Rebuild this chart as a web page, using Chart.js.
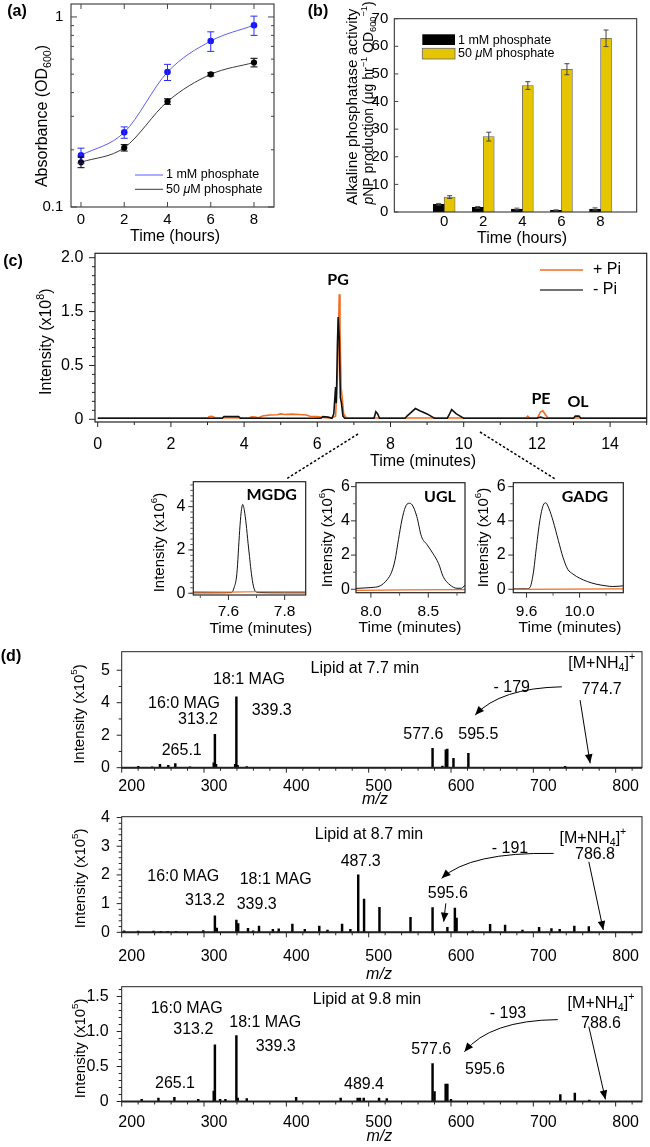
<!DOCTYPE html>
<html><head><meta charset="utf-8">
<script src="https://cdn.jsdelivr.net/npm/chart.js@4.4.1/dist/chart.umd.min.js"></script>
<style>
html,body{margin:0;padding:0;background:#fff;}
body{width:650px;height:1147px;position:relative;overflow:hidden;}
canvas{position:absolute;}
</style></head><body>
<script>
// ================= DATA =================
// (a) growth (OD600)
const hoursA = [0, 2, 4, 6, 8];
const od1mM = [0.187, 0.247, 0.513, 0.747, 0.905];
const od1mMErr = [0.017, 0.017, 0.05, 0.088, 0.105];
const od50uM = [0.172, 0.205, 0.359, 0.499, 0.576];
const od50uMErr = [0.011, 0.008, 0.012, 0.01, 0.03];
const odTicks = [0.1, 1];
const odTickLabels = ['0.1', '1'];
const odMinorTicks = [0.2, 0.3, 0.4, 0.5, 0.6, 0.7, 0.8, 0.9];

// (b) alkaline phosphatase activity
const hoursB = [0, 2, 4, 6, 8];
const apa1mM = [2.8, 1.7, 1.1, 0.6, 1.1];
const apa1mMErr = [0.3, 0.3, 0.3, 0.2, 0.4];
const apa50uM = [5.4, 27.3, 45.8, 51.7, 62.9];
const apa50uMErr = [0.5, 1.6, 1.4, 2.0, 3.0];
const apaTicks = [0, 10, 20, 30, 40, 50, 60, 70];

// (c) chromatogram (x10^8)
const tPlusPi = [0, 3.0, 3.05, 3.12, 3.2, 4.15, 4.2, 4.3, 4.4, 4.5, 4.7, 4.9, 5.0, 5.1, 5.3, 5.5, 5.7, 5.8, 6.0, 6.2, 6.4, 6.5, 6.55, 6.58, 6.6, 6.62, 6.65, 6.68, 6.72, 6.8, 11.7, 11.75, 11.8, 12.02, 12.1, 12.16, 12.24, 12.3, 15];
const iPlusPi = [0.012, 0.012, 0.025, 0.028, 0.014, 0.012, 0.022, 0.02, 0.015, 0.03, 0.04, 0.042, 0.05, 0.045, 0.048, 0.044, 0.04, 0.028, 0.025, 0.015, 0.012, 0.03, 0.4, 1.2, 1.66, 1.2, 0.3, 0.2, 0.05, 0.012, 0.012, 0.03, 0.012, 0.015, 0.07, 0.08, 0.04, 0.012, 0.012];
const tMinusPi = [0, 3.4, 3.45, 3.85, 3.9, 6.1, 6.15, 6.3, 6.4, 6.45, 6.5, 6.52, 6.55, 6.57, 6.6, 6.63, 6.66, 6.7, 6.75, 7.55, 7.6, 7.65, 7.7, 8.4, 8.45, 8.55, 8.68, 8.8, 9.0, 9.15, 9.2, 9.55, 9.6, 9.67, 9.8, 9.95, 10.0, 12.0, 12.1, 12.2, 13.0, 13.05, 13.15, 13.2, 15];
const iMinusPi = [0.01, 0.01, 0.025, 0.025, 0.01, 0.01, 0.025, 0.02, 0.01, 0.05, 0.3, 0.15, 0.9, 1.4, 1.0, 0.2, 0.15, 0.03, 0.01, 0.01, 0.07, 0.05, 0.01, 0.01, 0.03, 0.06, 0.1, 0.08, 0.05, 0.02, 0.01, 0.01, 0.04, 0.09, 0.05, 0.02, 0.01, 0.01, 0.02, 0.01, 0.01, 0.03, 0.03, 0.01, 0.01];
const cTimeTicks = [0, 2, 4, 6, 8, 10, 12, 14];
const cYTicks = [0, 0.5, 1.5, 2.0];
const cYTickLabels = ['0', '0.5', '1.5', '2.0'];

// insets (x10^6)
const mgdgT = [7.475, 7.55, 7.61, 7.62, 7.63, 7.64, 7.645, 7.651, 7.657, 7.663, 7.67, 7.675, 7.68, 7.687, 7.695, 7.71, 7.8, 7.875];
const mgdgMinus = [0.02, 0.02, 0.03, 0.25, 0.9, 2.9, 3.7, 4.1, 3.8, 3.2, 2.3, 1.7, 1.1, 0.46, 0.1, 0.03, 0.02, 0.02];
const mgdgPlusT = [7.475, 7.6, 7.7, 7.875];
const mgdgPlus = [0.06, 0.05, 0.07, 0.06];
const uglT = [7.87, 7.95, 8.0, 8.08, 8.14, 8.18, 8.21, 8.24, 8.27, 8.30, 8.33, 8.36, 8.40, 8.44, 8.49, 8.54, 8.59, 8.63, 8.69, 8.75, 8.79, 8.82];
const uglMinus = [0.05, 0.08, 0.1, 0.2, 0.55, 1.0, 1.7, 2.9, 4.05, 4.8, 5.03, 4.93, 4.25, 3.1, 2.6, 2.1, 1.5, 0.74, 0.25, 0.06, 0.06, 0.25];
const uglPlusT = [7.87, 8.3, 8.82];
const uglPlus = [-0.06, -0.03, -0.02];
const gadgT = [9.5, 9.6, 9.625, 9.65, 9.675, 9.70, 9.725, 9.745, 9.77, 9.80, 9.84, 9.875, 9.91, 9.95, 10.0, 10.06, 10.125, 10.2, 10.25, 10.33];
const gadgMinus = [0.02, 0.03, 0.1, 0.9, 2.5, 4.0, 4.9, 5.05, 4.7, 4.0, 2.85, 1.87, 1.18, 0.89, 0.65, 0.45, 0.3, 0.2, 0.16, 0.2];
const gadgPlusT = [9.5, 10.33];
const gadgPlus = [0.0, 0.02];
const mgdgXTicks = [7.6, 7.8], mgdgXLabels = ['7.6', '7.8'];
const uglXTicks = [8.0, 8.5], uglXLabels = ['8.0', '8.5'];
const gadgXTicks = [9.6, 10.0], gadgXLabels = ['9.6', '10.0'];
const mgdgYTicks = [0, 2, 4];
const insetYTicks = [0, 2, 4, 6];

// (d) mass spectra (x10^5)
const mz77 = [220.2, 237, 246.5, 256.6, 265.1, 283, 311.8, 313.2, 314.6, 337.8, 339.3, 340.8, 352, 577.6, 589.6, 593.7, 595.5, 603, 621.1, 738.6];
const int77 = [0.08, 0.05, 0.2, 0.15, 0.25, 0.05, 0.3, 2.05, 0.2, 0.2, 4.18, 0.15, 0.07, 1.19, 0.1, 1.1, 1.15, 0.57, 0.88, 0.08];
const mz87 = [203, 220, 238.6, 247.6, 256, 266, 299, 313.2, 315.5, 339.3, 341.5, 353.4, 359.6, 366.8, 383.6, 390.7, 407.3, 422.4, 440, 450, 467.7, 477.8, 487.3, 494.4, 513.1, 550.8, 577.6, 595.6, 604.7, 606.8, 626.4, 647.5, 665.7, 686.8, 707, 722, 732, 749.8, 767.4];
const int87 = [0.05, 0.04, 0.04, 0.03, 0.03, 0.03, 0.06, 0.57, 0.15, 0.43, 0.3, 0.14, 0.05, 0.22, 0.1, 0.12, 0.29, 0.1, 0.22, 0.08, 0.29, 0.1, 2.0, 1.16, 0.87, 0.52, 0.86, 0.17, 0.84, 0.5, 0.05, 0.28, 0.25, 0.08, 0.17, 0.13, 0.1, 0.22, 0.2];
const mz98 = [224.3, 244.6, 264, 293, 311.8, 313.2, 319.5, 326, 339.3, 341, 351.9, 411.9, 466, 486.6, 489.4, 494, 512.6, 522, 577.6, 580, 593.5, 595.6, 600, 732.8, 750.4, 768];
const int98 = [0.03, 0.05, 0.06, 0.03, 0.15, 0.81, 0.03, 0.03, 0.94, 0.05, 0.04, 0.06, 0.05, 0.05, 0.05, 0.05, 0.05, 0.04, 0.54, 0.14, 0.25, 0.25, 0.03, 0.1, 0.12, 0.02];
const mzTicks = [200, 300, 400, 500, 600, 700, 800];
const d1YTicks = [0, 2, 4, 5], d1YLabels = ['0', '2', '4', '5'];
const d2YTicks = [0, 1, 2, 3, 4];
const d3YTicks = [0, 0.5, 1.0, 1.5], d3YLabels = ['0', '0.5', '1.0', '1.5'];

// ================= HELPERS =================
const AF = "'Liberation Sans', Arial, Helvetica, sans-serif";
const BF = "Lato, 'Open Sans', 'DejaVu Sans', sans-serif";
Chart.defaults.font.family = AF;
Chart.defaults.color = '#000';
Chart.defaults.animation = false;

const xy = (xs, ys) => xs.map((x, i) => ({x: x, y: ys[i]}));
const range = (a, b, s) => { const r = []; for (let v = a; v <= b + 1e-9; v += s) r.push(Math.round(v * 1000) / 1000); return r; };
const subdiv = (arr, n) => { const r = []; for (let i = 0; i < arr.length - 1; i++) for (let k = 1; k < n; k++) r.push(arr[i] + k * (arr[i + 1] - arr[i]) / n); return r; };

// piecewise-linear axis (evenly spaced labelled breakpoints)
const LinScale = Chart.LinearScale || Chart.registry.getScale('linear');
class BrokenScale extends LinScale {
  _bk() { return this.chart.config.options.scales[this.id].breaks; }
  _w(v) { const b = this._bk(), n = b.length; let i = 0; while (i < n - 2 && v > b[i + 1]) i++; return i + (v - b[i]) / (b[i + 1] - b[i]); }
  _uw(p) { const b = this._bk(), n = b.length; const i = Math.max(0, Math.min(n - 2, Math.floor(p))); return b[i] + (p - i) * (b[i + 1] - b[i]); }
  getPixelForValue(v) {
    if (v === null || v === undefined || isNaN(v)) return NaN;
    const a = this._w(this.min), c = this._w(this.max);
    return this.getPixelForDecimal((this._w(v) - a) / (c - a));
  }
  getValueForPixel(px) {
    const a = this._w(this.min), c = this._w(this.max);
    return this._uw(a + this.getDecimalForPixel(px) * (c - a));
  }
}
BrokenScale.id = 'broken';
BrokenScale.defaults = {};
Chart.register(BrokenScale);

function drawText(ctx, it, ox, oy) {
  const size = it.size || 16, fam = it.family || AF;
  const parts = typeof it.text === 'string' ? [{t: it.text}] : it.text;
  const fontOf = p => ((p.italic || it.italic) ? 'italic ' : '') + ((p.bold || it.bold) ? 'bold ' : '') +
    ((p.sub || p.sup) ? (size * 0.66).toFixed(1) : size) + 'px ' + fam;
  let w = 0;
  parts.forEach(p => { ctx.font = fontOf(p); p._w = ctx.measureText(p.t).width; w += p._w; });
  ctx.save();
  ctx.translate(it.x - ox, it.y - oy);
  if (it.rot) ctx.rotate(it.rot * Math.PI / 180);
  ctx.fillStyle = it.color || '#000';
  ctx.textBaseline = 'middle';
  ctx.textAlign = 'left';
  let x0 = it.align === 'left' ? 0 : it.align === 'right' ? -w : -w / 2;
  parts.forEach(p => {
    ctx.font = fontOf(p);
    const dy = p.sub ? size * 0.3 : p.sup ? -size * 0.36 : 0;
    ctx.fillText(p.t, x0, dy);
    x0 += p._w;
  });
  ctx.restore();
}
function arrowHead(ctx, x, y, ang, len, hw) {
  const c = Math.cos(ang), s = Math.sin(ang);
  ctx.beginPath();
  ctx.moveTo(x, y);
  ctx.lineTo(x - len * c + hw * s, y - len * s - hw * c);
  ctx.lineTo(x - len * c - hw * s, y - len * s + hw * c);
  ctx.closePath(); ctx.fill();
}

const decoPlugin = {
  id: 'deco',
  afterDatasetsDraw(chart) {
    const d = chart.config.options.plugins.deco;
    if (!d || !d.errs) return;
    const ctx = chart.ctx, ys = chart.scales.y;
    ctx.save();
    d.errs.forEach(e => {
      const meta = chart.getDatasetMeta(e.ds), ds = chart.data.datasets[e.ds];
      ctx.strokeStyle = e.color; ctx.lineWidth = e.width || 1;
      ctx.beginPath();
      meta.data.forEach((el, i) => {
        const v = ds.data[i].y, er = e.err[i];
        const x = el.x, y1 = ys.getPixelForValue(v - er), y2 = ys.getPixelForValue(v + er);
        ctx.moveTo(x, y1); ctx.lineTo(x, y2);
        ctx.moveTo(x - e.cap, y1); ctx.lineTo(x + e.cap, y1);
        ctx.moveTo(x - e.cap, y2); ctx.lineTo(x + e.cap, y2);
      });
      ctx.stroke();
    });
    ctx.restore();
  },
  afterDraw(chart) {
    const d = chart.config.options.plugins.deco;
    if (!d) return;
    const ctx = chart.ctx, ca = chart.chartArea, ox = d.ox, oy = d.oy;
    ctx.save();
    if (d.frame) {
      ctx.strokeStyle = d.frame.color || '#000'; ctx.lineWidth = d.frame.width || 1;
      ctx.strokeRect(ca.left, ca.top, ca.right - ca.left, ca.bottom - ca.top);
      if (d.frame.bottom) {
        ctx.lineWidth = d.frame.bottom;
        ctx.beginPath(); ctx.moveTo(ca.left, ca.bottom); ctx.lineTo(ca.right, ca.bottom); ctx.stroke();
      }
    }
    (d.ticks || []).forEach(t => {
      const sc = chart.scales[t.axis];
      ctx.strokeStyle = t.color || '#000'; ctx.lineWidth = t.width || 1;
      ctx.beginPath();
      t.values.forEach(v => {
        const p = sc.getPixelForValue(v);
        const s = t.dir === 'in' ? -1 : 1;
        if (t.axis === 'x') {
          ctx.moveTo(p, ca.bottom); ctx.lineTo(p, ca.bottom + s * t.len);
          if (t.mirror) { ctx.moveTo(p, ca.top); ctx.lineTo(p, ca.top - s * t.len); }
        } else {
          ctx.moveTo(ca.left, p); ctx.lineTo(ca.left - s * t.len, p);
          if (t.mirror) { ctx.moveTo(ca.right, p); ctx.lineTo(ca.right + s * t.len, p); }
        }
      });
      ctx.stroke();
    });
    (d.items || []).forEach(it => {
      if (it.type === 'text') drawText(ctx, it, ox, oy);
      else if (it.type === 'line') {
        ctx.save();
        ctx.strokeStyle = it.color || '#000'; ctx.lineWidth = it.width || 1;
        ctx.setLineDash(it.dash || []);
        ctx.beginPath();
        it.pts.forEach((p, i) => { if (i === 0) ctx.moveTo(p[0] - ox, p[1] - oy); else ctx.lineTo(p[0] - ox, p[1] - oy); });
        ctx.stroke();
        ctx.restore();
      } else if (it.type === 'rect') {
        ctx.fillStyle = it.fill; ctx.fillRect(it.x - ox, it.y - oy, it.w, it.h);
        if (it.stroke) { ctx.strokeStyle = it.stroke; ctx.lineWidth = 0.8; ctx.strokeRect(it.x - ox, it.y - oy, it.w, it.h); }
      } else if (it.type === 'arrow') {
        const X = v => chart.scales.x.getPixelForValue(v), Y = v => chart.scales.y.getPixelForValue(v);
        const P = q => [X(q[0]), Y(q[1])];
        const a = P(it.from), b = P(it.to);
        ctx.strokeStyle = '#000'; ctx.fillStyle = '#000'; ctx.lineWidth = 1;
        ctx.beginPath(); ctx.moveTo(a[0], a[1]);
        let ang;
        if (it.ctrl) { const c = P(it.ctrl); ctx.quadraticCurveTo(c[0], c[1], b[0], b[1]); ang = Math.atan2(b[1] - c[1], b[0] - c[0]); }
        else { ctx.lineTo(b[0], b[1]); ang = Math.atan2(b[1] - a[1], b[0] - a[0]); }
        ctx.stroke();
        arrowHead(ctx, b[0], b[1], ang, 9, 3.8);
      }
    });
    ctx.restore();
  }
};
Chart.register(decoPlugin);

function axis(o) {
  const s = {
    type: o.type || 'linear', min: o.min, max: o.max, offset: false,
    grid: {display: false, drawTicks: false}, border: {display: false},
    ticks: {font: {size: o.size || 16, family: AF}, color: '#000', padding: o.pad, autoSkip: false,
      maxRotation: 0, minRotation: 0, labelOffset: o.labelOffset || 0,
      callback: (v, i) => o.labels ? o.labels[i] : String(v)},
    afterBuildTicks: sc => { sc.ticks = o.ticks.map(v => ({value: v})); }
  };
  if (o.breaks) s.breaks = o.breaks;
  return s;
}

function chartAt(box, m, cfg) {
  const ox = Math.floor(box.l - m.l), oy = Math.floor(box.t - m.t);
  const W = Math.ceil(box.r + m.r) - ox, H = Math.ceil(box.b + m.b) - oy;
  const c = document.createElement('canvas');
  c.width = W; c.height = H;
  c.style.left = ox + 'px'; c.style.top = oy + 'px';
  c.style.width = W + 'px'; c.style.height = H + 'px';
  document.body.appendChild(c);
  const ml = box.l - ox, mt = box.t - oy, mr = W - (box.r - ox), mb = H - (box.b - oy);
  const o = cfg.options;
  o.responsive = false; o.maintainAspectRatio = false; o.animation = false;
  o.layout = {padding: {left: 0, top: mt, right: mr, bottom: 0}};
  const zero = s => { s.paddingLeft = 0; s.paddingRight = 0; s.paddingTop = 0; s.paddingBottom = 0; };
  o.scales.x.afterFit = s => { s.height = mb; zero(s); };
  o.scales.y.afterFit = s => { s.width = ml; zero(s); };
  o.plugins = o.plugins || {};
  o.plugins.legend = {display: false};
  o.plugins.tooltip = {enabled: false};
  o.plugins.deco.ox = ox; o.plugins.deco.oy = oy;
  return new Chart(c, cfg);
}

const ORANGE = '#f26c21';
const txt = (x, y, text, extra) => Object.assign({type: 'text', x: x, y: y, text: text}, extra || {});

// ================= (a) =================
chartAt({l: 71, t: 2, r: 274, b: 207}, {l: 71, t: 2, r: 10, b: 40}, {
  type: 'line',
  data: {datasets: [
    {data: xy(hoursA, od1mM), borderColor: '#5b5bff', borderWidth: 1, pointRadius: 3.3, pointBackgroundColor: '#1515ff', pointBorderWidth: 0, cubicInterpolationMode: 'monotone'},
    {data: xy(hoursA, od50uM), borderColor: '#3a3a3a', borderWidth: 1, pointRadius: 3.1, pointBackgroundColor: '#000', pointBorderWidth: 0, cubicInterpolationMode: 'monotone'}
  ]},
  options: {
    scales: {
      x: axis({min: -0.462, max: 8.925, ticks: hoursA, size: 15, pad: 4}),
      y: axis({type: 'logarithmic', min: 0.1, max: 1.17, ticks: odTicks, labels: odTickLabels, size: 15, pad: 7.7})
    },
    plugins: {deco: {
      frame: {color: '#222', width: 1},
      ticks: [
        {axis: 'y', values: odTicks, len: 6, dir: 'in', mirror: true, color: '#444'},
        {axis: 'y', values: odMinorTicks, len: 3, dir: 'in', mirror: true, color: '#444'},
        {axis: 'x', values: hoursA, len: 5, dir: 'in', mirror: true, color: '#444'}
      ],
      errs: [
        {ds: 0, err: od1mMErr, color: '#2a2aff', cap: 3.5},
        {ds: 1, err: od50uMErr, color: '#000', cap: 3.5}
      ],
      items: [
        txt(17, 12, '(a)', {bold: true, size: 16}),
        txt(43, 116, [{t: 'Absorbance (OD'}, {t: '600', sub: true}, {t: ')'}], {rot: -90, size: 16}),
        txt(175, 237, 'Time (hours)', {size: 16}),
        {type: 'line', pts: [[135, 175], [163, 175]], color: '#5b5bff', width: 1},
        txt(166, 175, '1 mM phosphate', {align: 'left', size: 12.5}),
        {type: 'line', pts: [[135, 189.3], [163, 189.3]], color: '#3a3a3a', width: 1},
        txt(166, 189.3, [{t: '50 '}, {t: 'μ', italic: true}, {t: 'M phosphate'}], {align: 'left', size: 12.5})
      ]
    }}
  }
});

// ================= (b) =================
chartAt({l: 394.3, t: 18.7, r: 636.7, b: 212}, {l: 90, t: 18.7, r: 13, b: 36}, {
  type: 'bar',
  data: {datasets: [
    {data: xy(hoursB, apa1mM), backgroundColor: '#000', borderColor: '#000', borderWidth: 0.6, barThickness: 11},
    {data: xy(hoursB, apa50uM), backgroundColor: '#e5c400', borderColor: '#666', borderWidth: 0.8, barThickness: 11}
  ]},
  options: {
    scales: {
      x: axis({min: -2.55, max: 9.85, ticks: hoursB, size: 15, pad: 0.7}),
      y: axis({min: 0, max: 70, ticks: apaTicks, size: 15, pad: 6})
    },
    plugins: {deco: {
      frame: {color: '#222', width: 1},
      ticks: [{axis: 'y', values: apaTicks, len: 4, dir: 'in', color: '#444'}],
      errs: [
        {ds: 0, err: apa1mMErr, color: '#555', cap: 2.5},
        {ds: 1, err: apa50uMErr, color: '#444', cap: 2.5}
      ],
      items: [
        txt(318, 12, '(b)', {bold: true, size: 16}),
        txt(353, 106.7, 'Alkaline phosphatase activity', {rot: -90, size: 15.3}),
        txt(369.5, 103, [{t: 'p', italic: true}, {t: 'NP production (μg hr'}, {t: '−1', sup: true}, {t: ' OD'}, {t: '600', sub: true}, {t: '−1', sup: true}, {t: ')'}], {rot: -90, size: 14}),
        txt(522, 239, 'Time (hours)', {size: 16}),
        {type: 'rect', x: 422.3, y: 34.3, w: 32.7, h: 10.7, fill: '#000'},
        txt(458, 40.5, '1 mM phosphate', {align: 'left', size: 12.5}),
        {type: 'rect', x: 422.3, y: 48.3, w: 32.7, h: 10.7, fill: '#e5c400', stroke: '#666'},
        txt(458, 53.8, [{t: '50 '}, {t: 'μ', italic: true}, {t: 'M phosphate'}], {align: 'left', size: 12.5})
      ]
    }}
  }
});

// ================= (c) =================
chartAt({l: 95, t: 253.3, r: 646.7, b: 422}, {l: 95, t: 14, r: 3.3, b: 60}, {
  type: 'line',
  data: {datasets: [
    {data: xy(tMinusPi, iMinusPi), borderColor: '#111', borderWidth: 1.6, pointRadius: 0},
    {data: xy(tPlusPi, iPlusPi), borderColor: ORANGE, borderWidth: 1.6, pointRadius: 0}
  ]},
  options: {
    scales: {
      x: axis({min: -0.074, max: 15.0, ticks: cTimeTicks, size: 16, pad: 13.4}),
      y: axis({type: 'broken', breaks: cYTicks, min: -0.025, max: 2.041, ticks: cYTicks, labels: cYTickLabels, size: 16, pad: 11.7})
    },
    plugins: {deco: {
      frame: {color: '#222', width: 1.2},
      ticks: [
        {axis: 'y', values: cYTicks, len: 6, dir: 'out', color: '#222'},
        {axis: 'y', values: subdiv(cYTicks, 6), len: 3, dir: 'out', color: '#222'},
        {axis: 'x', values: cTimeTicks, len: 5, dir: 'out', color: '#222'},
        {axis: 'x', values: [1, 3, 5, 7, 9, 11, 13, 15], len: 3, dir: 'out', color: '#222'}
      ],
      items: [
        txt(13, 262, '(c)', {bold: true, size: 16}),
        txt(46.7, 341.7, [{t: 'Intensity (x10'}, {t: '8', sup: true}, {t: ')'}], {rot: -90, size: 16}),
        txt(423, 462, 'Time (minutes)', {size: 16}),
        txt(338, 280, 'PG', {bold: true, size: 16, family: BF}),
        txt(541, 399, 'PE', {bold: true, size: 16, family: BF}),
        txt(578, 401.7, 'OL', {bold: true, size: 16, family: BF}),
        {type: 'line', pts: [[540, 270], [583, 270]], color: ORANGE, width: 1.5},
        txt(593, 270, '+ Pi', {align: 'left', size: 16}),
        {type: 'line', pts: [[540, 290], [583, 290]], color: '#444', width: 1.5},
        txt(593, 290, '- Pi', {align: 'left', size: 16}),
        {type: 'line', pts: [[358, 434], [287, 478.5]], color: '#000', width: 1.5, dash: [2.5, 2]},
        {type: 'line', pts: [[480, 432], [556, 479.5]], color: '#000', width: 1.5, dash: [2.5, 2]}
      ]
    }}
  }
});

// ================= insets =================
function inset(box, m, tMinus, vMinus, tPlus, vPlus, xo, yo, label, lab, ytl, xtl, xMinor, yMinor) {
  chartAt(box, m, {
    type: 'line',
    data: {datasets: [
      {data: xy(tPlus, vPlus), borderColor: ORANGE, borderWidth: 1.2, pointRadius: 0},
      {data: xy(tMinus, vMinus), borderColor: '#111', borderWidth: 1, pointRadius: 0, cubicInterpolationMode: 'monotone'}
    ]},
    options: {
      scales: {x: axis(xo), y: axis(yo)},
      plugins: {deco: {
        frame: {color: '#222', width: 1.2},
        ticks: [
          {axis: 'y', values: yo.ticks, len: 5, dir: 'out', color: '#333'},
          {axis: 'y', values: yMinor, len: 3, dir: 'out', color: '#555'},
          {axis: 'x', values: xo.ticks, len: 5, dir: 'out', color: '#333'},
          {axis: 'x', values: xMinor, len: 3, dir: 'out', color: '#555'}
        ],
        items: [
          txt(lab[0], lab[1], label, {bold: true, size: 16, family: BF}),
          txt(ytl[0], ytl[1], [{t: 'Intensity (x10'}, {t: '6', sup: true}, {t: ')'}], {rot: -90, size: 15}),
          txt(xtl[0], xtl[1], 'Time (minutes)', {size: 15.5})
        ]
      }}
    }
  });
}
inset({l: 193.3, t: 481.7, r: 305.7, b: 595}, {l: 45, t: 8, r: 6, b: 42}, mgdgT, mgdgMinus, mgdgPlusT, mgdgPlus,
  {min: 7.475, max: 7.875, ticks: mgdgXTicks, labels: mgdgXLabels, size: 15.5, pad: 7},
  {min: -0.08, max: 5.15, ticks: mgdgYTicks, size: 16, pad: 8},
  'MGDG', [271.7, 495], [159.5, 542.5], [260.8, 628.3], [7.5, 7.7], range(0, 5, 0.25));
inset({l: 356, t: 482.7, r: 465, b: 592.7}, {l: 42, t: 8, r: 6, b: 44}, uglT, uglMinus, uglPlusT, uglPlus,
  {min: 7.87, max: 8.82, ticks: uglXTicks, labels: uglXLabels, size: 15.5, pad: 9.4},
  {min: -0.2, max: 6.23, ticks: insetYTicks, size: 16, pad: 6},
  'UGL', [440, 497.3], [327.5, 537.5], [410, 628], [8.25, 8.75], [1, 3, 5]);
inset({l: 513.3, t: 482.7, r: 623.3, b: 592.7}, {l: 42, t: 8, r: 6, b: 44}, gadgT, gadgMinus, gadgPlusT, gadgPlus,
  {min: 9.5, max: 10.33, ticks: gadgXTicks, labels: gadgXLabels, size: 15.5, pad: 9.4},
  {min: -0.2, max: 6.23, ticks: insetYTicks, size: 16, pad: 7.6},
  'GADG', [585, 497], [484, 537.5], [570, 628], [9.8, 10.2], [1, 3, 5]);

// ================= (d) spectra =================
function spectrum(box, m, mz, inten, yo, xPad, yMinor, items) {
  chartAt(box, m, {
    type: 'bar',
    data: {datasets: [{data: xy(mz, inten), backgroundColor: '#000', borderWidth: 0, barThickness: 1.8}]},
    options: {
      scales: {
        x: axis({min: 200, max: 832, ticks: mzTicks, size: 16, pad: xPad, labelOffset: 10}),
        y: axis(yo)
      },
      plugins: {deco: {
        frame: {color: '#222', width: 1, bottom: 2},
        ticks: [
          {axis: 'y', values: yo.ticks, len: 5, dir: 'out', color: '#222'},
          {axis: 'y', values: yMinor, len: 3, dir: 'out', color: '#222'},
          {axis: 'x', values: mzTicks, len: 5, dir: 'out', color: '#222'},
          {axis: 'x', values: range(220, 820, 20).filter(v => v % 100 !== 0), len: 3, dir: 'out', color: '#222'}
        ],
        items: items
      }}
    }
  });
}
const nh4 = [{t: '[M+NH'}, {t: '4', sub: true}, {t: ']'}, {t: '+', sup: true}];
const yTitle5 = [{t: 'Intensity (x10'}, {t: '5', sup: true}, {t: ')'}];

spectrum({l: 121.7, t: 651.7, r: 642, b: 767.7}, {l: 121.7, t: 14, r: 8, b: 42}, mz77, int77,
  {type: 'broken', breaks: d1YTicks, min: 0, max: 5.57, ticks: d1YTicks, labels: d1YLabels, size: 16, pad: 11.7},
  9.7, [1, 3, 4.5], [
    txt(11, 657, '(d)', {bold: true, size: 16}),
    txt(80, 714, yTitle5, {rot: -90, size: 15}),
    txt(375, 800, 'm/z', {italic: true, size: 16}),
    txt(364.8, 668.3, 'Lipid at 7.7 min', {size: 16}),
    txt(249, 680, '18:1 MAG', {size: 16}),
    txt(184, 703.3, '16:0 MAG', {size: 16}),
    txt(198, 720, '313.2', {size: 16}),
    txt(271.7, 711, '339.3', {size: 16}),
    txt(181.7, 751, '265.1', {size: 16}),
    txt(423.3, 735, '577.6', {size: 16}),
    txt(478.3, 735, '595.5', {size: 16}),
    txt(511.7, 687.7, '- 179', {size: 16}),
    txt(601.7, 663.3, nh4, {size: 16}),
    txt(601.7, 690, '774.7', {size: 16}),
    {type: 'arrow', from: [734.6, 4.49], ctrl: [659.7, 4.45], to: [629.3, 3.24]},
    {type: 'arrow', from: [756.8, 4.08], to: [769, 0.27]}
  ]);

spectrum({l: 121.7, t: 816.7, r: 642, b: 932.3}, {l: 121.7, t: 12, r: 8, b: 48}, mz87, int87,
  {min: 0, max: 4.03, ticks: d2YTicks, size: 16, pad: 11.7},
  14.8, range(0.2, 4, 0.2).filter(v => Math.abs(v - Math.round(v)) > 1e-6), [
    txt(80.8, 878.3, yTitle5, {rot: -90, size: 15}),
    txt(379, 975, 'm/z', {italic: true, size: 16}),
    txt(369, 835, 'Lipid at 8.7 min', {size: 16}),
    txt(592.9, 838.3, nh4, {size: 16}),
    txt(595, 855, '786.8', {size: 16}),
    txt(510, 848.3, '- 191', {size: 16}),
    txt(360.7, 861.7, '487.3', {size: 16}),
    txt(183.3, 876.7, '16:0 MAG', {size: 16}),
    txt(275.7, 879.3, '18:1 MAG', {size: 16}),
    txt(205, 901, '313.2', {size: 16}),
    txt(256.7, 904.3, '339.3', {size: 16}),
    txt(447.8, 893.3, '595.6', {size: 16}),
    {type: 'arrow', from: [724.7, 2.75], ctrl: [623.2, 2.8], to: [588.6, 1.88]},
    {type: 'arrow', from: [593.7, 1.01], to: [591.1, 0.37]},
    {type: 'arrow', from: [767.4, 2.46], to: [785, 0.08]}
  ]);

spectrum({l: 121.7, t: 986.7, r: 642, b: 1101.5}, {l: 121.7, t: 12, r: 8, b: 45.5}, mz98, int98,
  {min: 0, max: 1.64, ticks: d3YTicks, labels: d3YLabels, size: 16, pad: 13},
  11, range(0.1, 1.6, 0.1).filter(v => Math.abs(v * 2 - Math.round(v * 2)) > 1e-6), [
    txt(80.8, 1048.3, yTitle5, {rot: -90, size: 15}),
    txt(379.4, 1137, 'm/z', {italic: true, size: 16}),
    txt(367, 1000, 'Lipid at 9.8 min', {size: 16}),
    txt(601, 1003.3, nh4, {size: 16}),
    txt(601, 1023.3, '788.6', {size: 16}),
    txt(508, 1013.3, '- 193', {size: 16}),
    txt(186.7, 1008.3, '16:0 MAG', {size: 16}),
    txt(193.3, 1030, '313.2', {size: 16}),
    txt(265.3, 1022.7, '18:1 MAG', {size: 16}),
    txt(275.7, 1046.7, '339.3', {size: 16}),
    txt(175, 1083.3, '265.1', {size: 16}),
    txt(364, 1084.3, '489.4', {size: 16}),
    txt(431.2, 1050, '577.6', {size: 16}),
    txt(485, 1070, '595.6', {size: 16}),
    {type: 'arrow', from: [729.7, 1.17], ctrl: [647.5, 1.16], to: [616.3, 0.71]},
    {type: 'arrow', from: [767.4, 1.07], to: [787.6, 0.03]}
  ]);
</script>
</body></html>
